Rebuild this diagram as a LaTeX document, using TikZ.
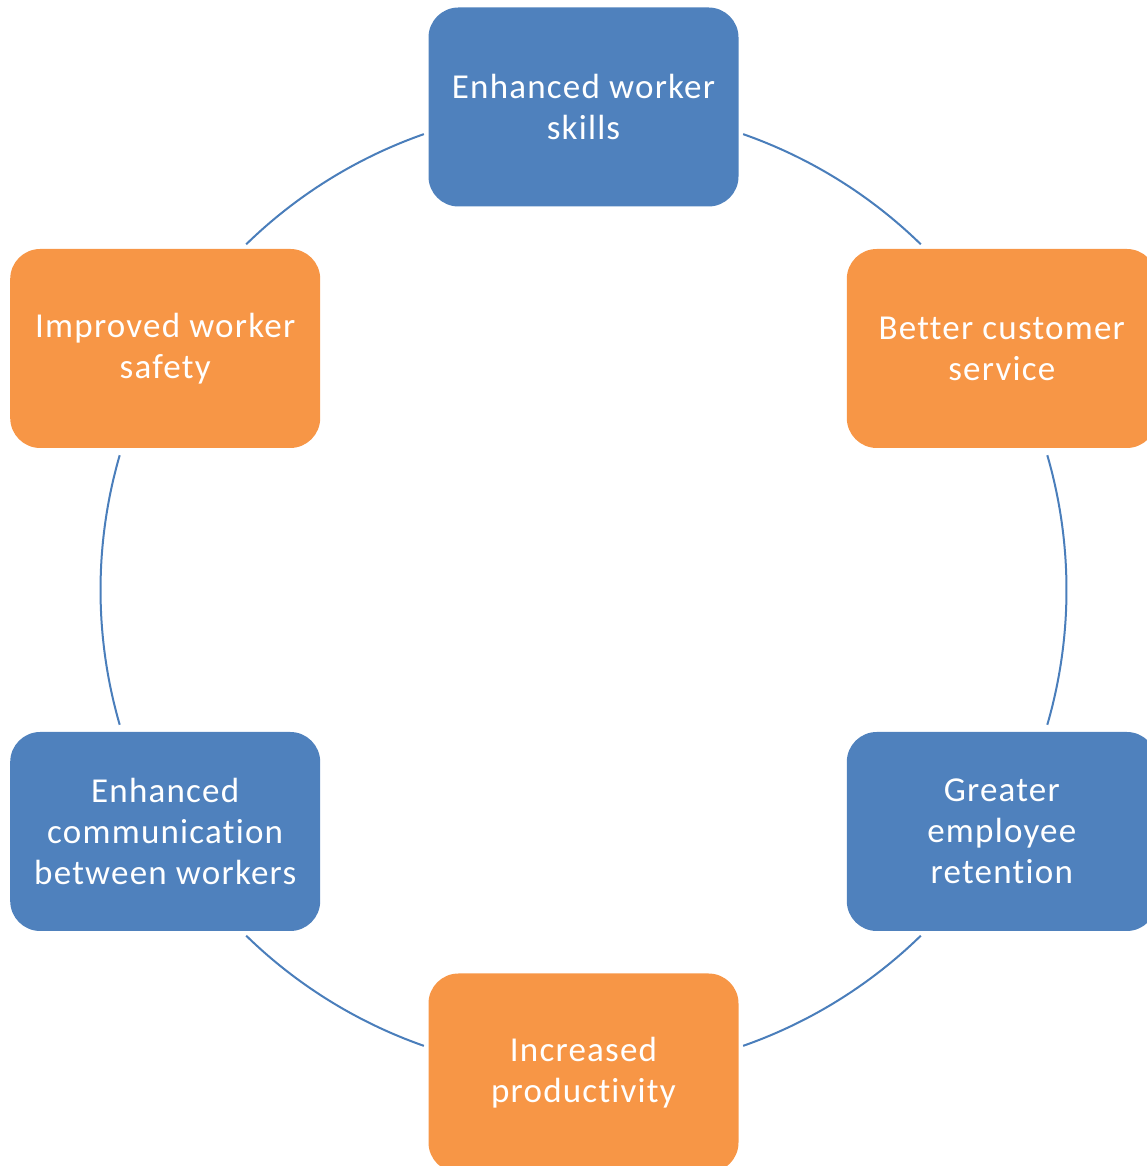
\documentclass[tikz,border=0pt]{standalone}
\usepackage{fontspec}
\setmainfont{Carlito}[Ligatures=NoCommon, LetterSpace=3.5]
\usetikzlibrary{calc}
\definecolor{boxblue}{HTML}{4F81BD}
\definecolor{boxorange}{HTML}{F79646}
\definecolor{linkblue}{HTML}{4A7EBB}
\begin{document}
\begin{tikzpicture}[x=1pt,y=1pt,
  card/.style={rounded corners=30pt, minimum width=310pt, minimum height=199pt,
    text=white, align=center, inner sep=0pt,
    font=\fontsize{35pt}{41pt}\selectfont},
  bluecard/.style={card, fill=boxblue},
  orangecard/.style={card, fill=boxorange},
  link/.style={draw=linkblue, line width=2pt}]
\useasboundingbox (0,0) rectangle (1147,1166);
\coordinate (c) at (583.5,576);
\node[bluecard]   (n1) at ($(c)+(90:483)$)  {Enhanced worker\\skills};
\node[orangecard] (n2) at ($(c)+(30:483)$)  {Better customer\\service};
\node[bluecard]   (n3) at ($(c)+(-30:483)$) {Greater\\employee\\retention};
\node[orangecard] (n4) at ($(c)+(-90:483)$) {Increased\\productivity};
\node[bluecard]   (n5) at ($(c)+(210:483)$) {Enhanced\\communication\\between workers};
\node[orangecard] (n6) at ($(c)+(150:483)$) {Improved worker\\safety};
\coordinate (a12) at ($(c)+(70.7:483)$);
\coordinate (a23) at ($(c)+(16.2:483)$);
\coordinate (a34) at ($(c)+(-45.7:483)$);
\coordinate (a45) at ($(c)+(-109.3:483)$);
\coordinate (a56) at ($(c)+(196.2:483)$);
\coordinate (a61) at ($(c)+(134.3:483)$);
\draw[link] (a12) arc[start angle=70.7, end angle=45.7, radius=483];
\draw[link] (a23) arc[start angle=16.2, end angle=-16.2, radius=483];
\draw[link] (a34) arc[start angle=-45.7, end angle=-70.7, radius=483];
\draw[link] (a45) arc[start angle=-109.3, end angle=-134.3, radius=483];
\draw[link] (a56) arc[start angle=196.2, end angle=163.8, radius=483];
\draw[link] (a61) arc[start angle=134.3, end angle=109.3, radius=483];
\end{tikzpicture}
\end{document}
